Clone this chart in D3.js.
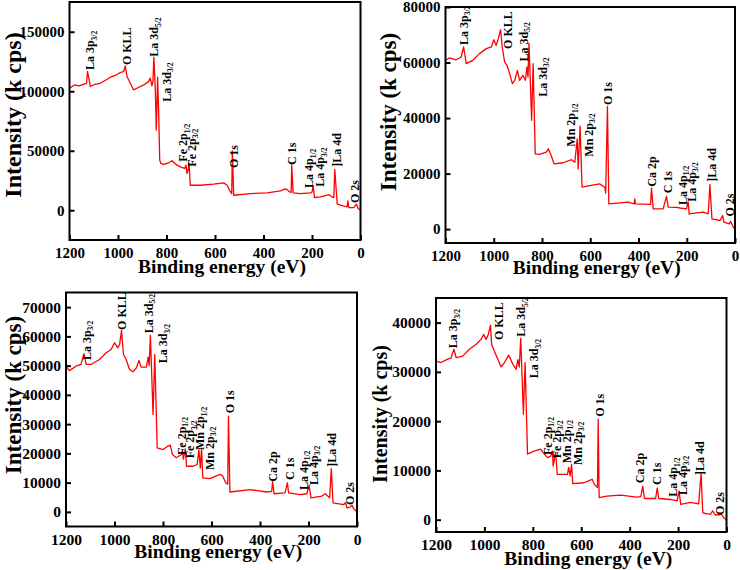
<!DOCTYPE html>
<html><head><meta charset="utf-8">
<script src="https://cdn.jsdelivr.net/npm/d3@7/dist/d3.min.js"></script>
<style>
html,body{margin:0;padding:0;background:#fff;}
svg{display:block;}
text{font-family:"Liberation Serif","Times New Roman",serif;font-weight:bold;fill:#000;}
</style></head>
<body>
<svg id="chart" width="740" height="570"></svg>
<script>
// ---------- data ----------
const xTicks = [1200, 1000, 800, 600, 400, 200, 0];

// Panel 1 (La-Fe sample)
const be1 = [1200,1180,1160,1140,1130,1125.6,1114,1100,1073,1050,1032,1005,991,977,970,963,949,936,922,894,874,867,860,856,852,846,842,836.6,832,828,823,812,791,777,763,743,725,719.7,715.5,712,707,702,660,605,564,550,539,531,528.4,523,454,385,330,310,300,292,286,283.5,278,248,206,199.5,195,190,165,131,117,110,106,96,69,55,52,48,27.5,16.5,9.6,0];
const int1 = [102500,105300,104500,106000,106700,116600,104000,105500,106700,109500,111800,113800,115700,116600,121300,112400,106700,101100,102500,105300,108100,111000,104500,108000,128700,100000,67400,111800,80000,42100,39300,38500,39900,41600,38800,36500,35100,37900,30900,33000,39900,21000,21000,21900,23000,21000,16300,14000,49700,12600,14000,14600,16300,18000,16900,15400,15000,37900,14600,14000,14600,15400,20500,10700,11200,13200,11200,10700,34300,5100,3400,2800,7900,2200,2200,5100,1400,0];
const yTicks1 = [0, 50000, 100000, 150000];
const labText1 = ["La 3p|3/2","O KLL","La 3d|5/2","La 3d|3/2","Fe 2p|1/2","Fe 2p|3/2","O 1s","C 1s","La 4p|1/2","La 4p|3/2","]La 4d","O 2s"];
const labBE1 = [1115,964,851.5,799,732,696,521.6,283.7,212,167,98,22.7];
const labY1 = [117800,122000,129000,91200,40800,36600,35500,38000,18700,19800,36600,6100];

// Panel 2 (La-Ca-Mn sample)
const be2 = [1200,1183,1156,1135,1125,1114,1087,1059,1031,1010,1000,990,983,971.6,965,955,945,934,923,913,902,893,879,869,862,858,854,843,836.7,828,810,782,773,762,750,713,678,664,654,650,642,634,602,561,540,536,528.7,523,443,418,415.6,412,350,346,339,298,284,277,242,228,201,194,190,131,111,104,95.5,62,51,46,23.5,18,7,0];
const int2 = [60800,61700,61000,62000,65600,59600,60800,63200,65000,65600,68200,66200,68000,71800,65600,60200,59000,56000,52400,53600,57200,53600,55400,53600,58400,54800,67000,39200,59600,27100,26900,27700,28900,26500,23500,23900,25000,24100,32500,21700,37100,15100,15700,16300,15100,13000,44200,9100,9700,9100,10900,9100,8900,14800,7300,7300,11800,7900,7800,7600,7300,9700,5500,6100,5500,16000,3700,3100,4900,2500,1900,2800,700,-200];
const yTicks2 = [0, 20000, 40000, 60000, 80000];
const labText2 = ["La 3p|3/2","O KLL","La 3d|5/2","La 3d|3/2","Mn 2p|1/2","Mn 2p|3/2","O 1s","Ca 2p","C 1s","La 4p|1/2","La 4p|3/2","]La 4d","O 2s"];
const labBE2 = [1126,940,877.5,797,680,608,527.7,345,276.5,218.4,179.5,96.6,20.7];
const labY2 = [66300,64900,60400,47700,29700,26100,44700,15300,12900,8700,9900,17100,4500];

// Panel 3 (La-Ca-Fe-Mn sample)
const be3 = [1200,1186,1159,1138,1126,1117,1097,1062,1034,1014,1000,986,979,971,963,952,938,924,910,899,890,869,861,857,852,841,834,824,800,779,770,761,745,724,720,716,708,703,676,659,652,646,641,636,607,565,554,541,533,530,524,441,372,352,348,342,297,287,282,235,207,197,190,145,131,113,106,99,55,48,41,28,21,14,0];
const int3 = [49800,48300,49800,50400,54100,50400,50400,52100,54400,55500,57800,56100,57200,62000,53800,52100,48700,47900,49200,51800,49500,49500,52900,50000,60400,33300,53800,21900,21300,22500,22800,19600,18500,19600,21000,18000,21500,15600,15600,16200,21300,15000,21900,11600,11400,12800,12300,9900,9500,32700,6800,7600,6800,7000,10300,6200,6500,9900,6500,5900,6200,9100,4800,5400,6200,4800,14800,3100,2500,3100,1400,1600,2300,1100,0];
const yTicks3 = [0, 10000, 20000, 30000, 40000, 50000, 60000, 70000];
const labText3 = ["La 3p|3/2","O KLL","La 3d|5/2","La 3d|3/2","Fe 2p|1/2","Fe 2p|3/2","Mn 2p|1/2","Mn 2p|3/2","O 1s","Ca 2p","C 1s","La 4p|1/2","La 4p|3/2","]La 4d","O 2s"];
const labBE3 = [1114.6,970,860.6,798.8,723,688.7,647.4,609,523.7,347.6,276.3,221.4,180.2,104.3,28.9];
const labY3 = [51900,62200,61050,50800,19450,18300,21150,14300,33700,10300,10900,7500,9200,15450,2350];

// Panel 4 (La-Ca-Fe-Mn sample, second)
const be4 = [1200,1179,1152,1138,1126,1117,1090,1062,1034,1014,1003,993,984,975,970,959,945,931,917,900,882,869,862,856,850,839,832,822,795,768,757,740,726,719,716,706,699,657,652,646,640,635,589,555,546,533,530,526,494,439,370,354,346,339,293,286,280,231,204,196,189,149,115,105,98,66,57,46,28,22,11,0];
const int4 = [32200,31900,32600,32800,34600,32900,33200,34600,35600,36600,37600,36600,37600,39500,35600,34200,32600,31000,31900,33400,31500,30500,32500,31000,36800,21400,31900,13300,13900,14300,13600,12600,12900,13900,10900,13600,9200,9200,10600,8900,11200,7300,7500,8200,7200,6500,20400,4500,4800,5000,4600,4700,6800,4300,4300,6400,4300,4100,3800,5800,3100,3500,3200,9300,1400,1100,1800,950,1000,1200,400,0];
const yTicks4 = [0, 10000, 20000, 30000, 40000];
const labText4 = labText3.slice();
const labBE4 = [1129.6,942.6,848.9,794,738.6,701.4,660,616.3,525.4,357.3,288.3,219.8,181,109.5,26.8];
const labY4 = [34790,36470,37140,28700,13130,12460,11450,11100,20900,7390,7040,4670,5010,9070,950];

const xTitle = "Binding energy (eV)";
const yTitle = "Intensity (k cps)";

// ---------- layout ----------
const panels = [
  {L:69.5,T:2,R:360.5,B:240, yDom:[-25000,175000], yTicks:yTicks1, be:be1, iv:int1, lt:labText1, lb:labBE1, ly:labY1,
   xtX:222, xtY:273, ytX:13.5, ytY:115, ytFs:24, tickFs:15},
  {L:445.5,T:7,R:735,B:243, yDom:[-5000,80000], yTicks:yTicks2, be:be2, iv:int2, lt:labText2, lb:labBE2, ly:labY2,
   xtX:596.7, xtY:274, ytX:388.5, ytY:112, ytFs:23, tickFs:15},
  {L:66,T:292.5,R:357,B:526.5, yDom:[-5000,75000], yTicks:yTicks3, be:be3, iv:int3, lt:labText3, lb:labBE3, ly:labY3,
   xtX:218.3, xtY:558, ytX:13.5, ytY:395, ytFs:23, tickFs:15.5},
  {L:436,T:298,R:726.5,B:532, yDom:[-2500,45000], yTicks:yTicks4, be:be4, iv:int4, lt:labText4, lb:labBE4, ly:labY4,
   xtX:588.3, xtY:565, ytX:380.5, ytY:414, ytFs:20, tickFs:15.5}
];

const svg = d3.select("#chart");

panels.forEach((p, i) => {
  const x = d3.scaleLinear().domain([1200, 0]).range([p.L, p.R]);
  const y = d3.scaleLinear().domain(p.yDom).range([p.B, p.T]);
  const g = svg.append("g");

  g.append("clipPath").attr("id", "clip" + i)
    .append("rect").attr("x", p.L).attr("y", p.T).attr("width", p.R - p.L).attr("height", p.B - p.T);

  // spectrum
  const pts = p.be.map((b, k) => [b, p.iv[k]]);
  g.append("path").datum(pts)
    .attr("clip-path", `url(#clip${i})`)
    .attr("fill", "none").attr("stroke", "#ff0000").attr("stroke-width", 1.3)
    .attr("stroke-linejoin", "round")
    .attr("d", d3.line().x(d => x(d[0])).y(d => y(d[1])));

  // axes
  const xa = g.append("g").attr("transform", `translate(0,${p.B})`)
    .call(d3.axisBottom(x).tickValues(xTicks).tickFormat(d3.format("d")).tickSizeInner(-5).tickSizeOuter(0).tickPadding(7));
  const ya = g.append("g").attr("transform", `translate(${p.L},0)`)
    .call(d3.axisLeft(y).tickValues(p.yTicks).tickFormat(d3.format("d")).tickSizeInner(-5).tickSizeOuter(0).tickPadding(5));
  [xa, ya].forEach(a => {
    a.select(".domain").remove();
    a.selectAll(".tick line").attr("stroke", "#000").attr("stroke-width", 2);
    a.selectAll(".tick text").attr("font-family", '"Liberation Serif","Times New Roman",serif')
      .attr("font-weight", "bold").attr("font-size", p.tickFs).attr("fill", "#000");
  });

  // frame
  g.append("rect").attr("x", p.L).attr("y", p.T).attr("width", p.R - p.L).attr("height", p.B - p.T)
    .attr("fill", "none").attr("stroke", "#000").attr("stroke-width", 2);

  // titles
  g.append("text").attr("x", p.xtX).attr("y", p.xtY).attr("text-anchor", "middle")
    .attr("font-size", 19.5).text(xTitle);
  g.append("text").attr("transform", `translate(${p.ytX},${p.ytY}) rotate(-90)`)
    .attr("text-anchor", "middle").attr("dy", "0.33em").attr("font-size", p.ytFs).text(yTitle);

  // peak labels
  p.lt.forEach((t, k) => {
    const parts = t.split("|");
    const tx = g.append("text")
      .attr("transform", `translate(${x(p.lb[k])},${y(p.ly[k])}) rotate(-90)`)
      .attr("font-size", 12);
    tx.append("tspan").attr("dy", 4.2).text(parts[0]);
    if (parts[1]) tx.append("tspan").attr("dy", 2.5).attr("font-size", 7.5).text(parts[1]);
  });
});
</script>
</body></html>
